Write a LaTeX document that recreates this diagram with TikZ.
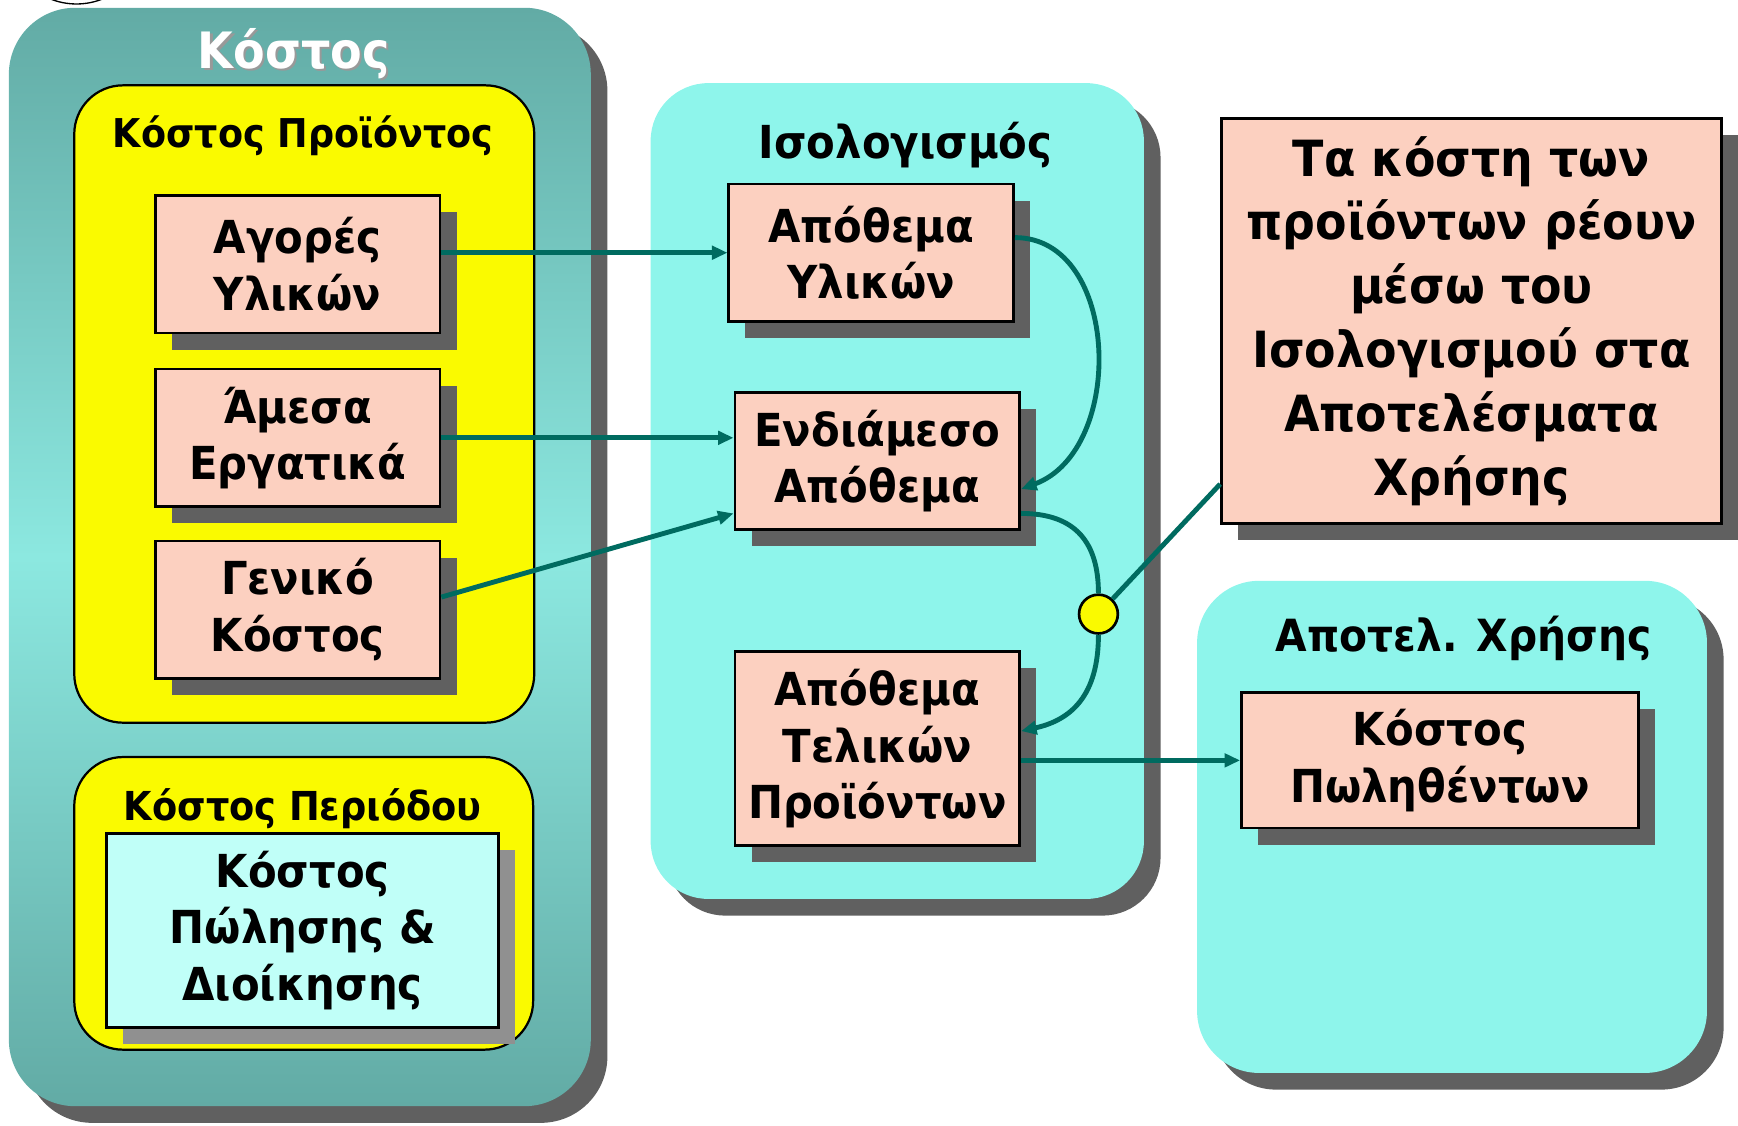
\documentclass[tikz,border=0pt]{standalone}
\usepackage{fontspec}
\setmainfont{DejaVu Sans}[FakeStretch=0.92]
\usetikzlibrary{arrows.meta}
\usetikzlibrary{shadows}
\definecolor{tealdark}{RGB}{98,171,165}
\definecolor{teallight}{RGB}{140,232,224}
\definecolor{salmon}{RGB}{252,208,192}
\definecolor{paleaqua}{RGB}{192,255,248}
\definecolor{aquapanel}{RGB}{142,245,235}
\definecolor{lemon}{RGB}{250,250,0}
\definecolor{shadowdark}{RGB}{96,96,96}
\definecolor{shadowlight}{RGB}{144,144,144}
\definecolor{flowc}{RGB}{0,107,96}
\tikzset{
	shadowed/.style={drop shadow={shadow xshift=7.5pt,shadow yshift=-7.5pt,fill=#1,opacity=1}},
	shadowed/.default=shadowdark,
	box/.style={draw,line width=1.2pt,fill=salmon,align=center,inner sep=0pt,minimum width=128.5pt,minimum height=62pt,font=\fontsize{20.5}{25.5}\selectfont\bfseries,shadowed},
	yellowgroup/.style={draw,line width=1pt,fill=lemon,rounded corners=22pt},
	aquagroup/.style={fill=aquapanel,rounded corners=26pt,shadowed},
	heading/.style={anchor=base,inner sep=0pt,font=\fontsize{#1}{23}\selectfont\bfseries},
	heading/.default=19,
	flowline/.style={draw=flowc,line width=2.2pt},
	flow/.style={flowline,-{Triangle[length=7pt,width=6pt]}},
	dot/.style={circle,draw,line width=1.2pt,fill=lemon,minimum size=17.5pt,inner sep=0pt},
}

\begin{document}
\begin{tikzpicture}[x=0.5pt,y=-0.5pt]
	\useasboundingbox (0,0) rectangle (1568,1015);
	%ARC LEFT OVER AT THE TOP
	\begin{scope}
		\clip (0,0) rectangle (1568,1015);
		\draw[line width=0.6pt] (69,-59.4) circle (63);
	\end{scope}
	
	%COST
	\node[top color=tealdark,bottom color=tealdark,middle color=teallight,rounded corners=30pt,minimum width=262.5pt,minimum height=495.5pt,shadowed] (cost) at (270.5,502.5) {};
	\node[heading=22.6,text=gray!80] (costshade) at (267,64) {Κόστος};
	\node[heading=22.6,text=white] (costtitle) at (265,62) {Κόστος};
	%
	\node[yellowgroup,minimum width=207.5pt,minimum height=287.5pt] (prod) at (274.5,364.5) {};
	\node[heading=17.9] (prodtitle) at (273.5,133) {Κόστος Προϊόντος};
	\node[box] (purch) at (268.5,238.5) {Αγορές\\Υλικών};
	\node[box] (labour) at (268.5,395) {Άμεσα\\Εργατικά};
	\node[box] (overh) at (268.5,550) {Γενικό\\Κόστος};
	%
	\node[yellowgroup,minimum width=207pt,minimum height=132pt] (period) at (274,815) {};
	\node[heading=18] (periodtitle) at (273,740) {Κόστος Περιόδου};
	\node[box,fill=paleaqua,shadowed=shadowlight,minimum width=177pt,minimum height=87.5pt] (selladm) at (273,839.5) {Κόστος\\Πώλησης \&\\Διοίκησης};
	
	%BALANCE SHEET
	\node[aquagroup,minimum width=222.5pt,minimum height=368pt] (bal) at (809.5,443) {};
	\node[heading=20.5] (baltitle) at (817,143) {Ισολογισμός};
	\node[box] (mat) at (786,228) {Απόθεμα\\Υλικών};
	\node[box] (wip) at (791.5,416) {Ενδιάμεσο\\Απόθεμα};
	\node[box,minimum height=87.5pt] (fin) at (791.5,675.5) {Απόθεμα\\Τελικών\\Προϊόντων};
	
	%NOTE
	\node[box,minimum width=225.5pt,minimum height=182.5pt,font=\fontsize{22.5}{28.8}\selectfont\bfseries] (note) at (1327.5,289.5) {Τα κόστη των\\προϊόντων ρέουν\\μέσω του\\Ισολογισμού στα\\Αποτελέσματα\\Χρήσης};
	
	%INCOME STATEMENT
	\node[aquagroup,rounded corners=28pt,minimum width=230pt,minimum height=222pt] (inc) at (1310,746) {};
	\node[heading=20] (inctitle) at (1320.5,588) {Αποτελ. Χρήσης};
	\node[box,minimum width=179pt,minimum height=61pt] (cogs) at (1299,686) {Κόστος\\Πωληθέντων};
	
	%FLOWS
	\node[dot] (dot) at (991,554) {};
	\draw[flow] (purch.east |- mat.west) -- (mat.west);
	\draw[flow] (labour.east) -- (labour.east -| wip.west);
	\draw[flow] (overh.5) -- (wip.-160);
	\draw[flow] (mat.6) .. controls +(95,0) and +(95,-35) .. (wip.-11);
	\draw[flowline] (wip.-20) .. controls +(50,0) and +(0,-45) .. (dot.north);
	\draw[flow] (dot.south) .. controls +(0,55) and +(45,-10) .. (fin.7);
	\draw[flowline] (dot) -- (note.-147);
	\draw[flow] (fin.east |- cogs.west) -- (cogs.west);
\end{tikzpicture}
\end{document}
